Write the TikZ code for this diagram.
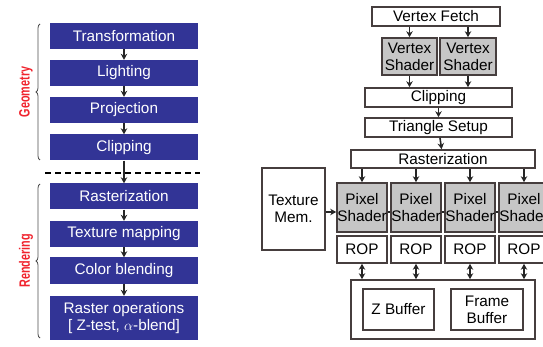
\documentclass[tikz,border=0pt]{standalone}
\usepackage{fontspec}
\setmainfont{Liberation Sans}
\usepackage{xcolor}
\usepackage{graphicx}
\usepackage{tikz}
\usetikzlibrary{arrows.meta, decorations.pathreplacing}
\definecolor{stageblue}{RGB}{50,52,150}
\definecolor{labelred}{RGB}{240,35,45}
\definecolor{boxline}{RGB}{70,62,62}
\newcommand{\narrow}[1]{\scalebox{0.72}[1]{#1}}
\tikzset{
  font=\fontsize{15.3}{17}\selectfont,           % one text size
  stage/.style    = {rectangle, fill=stageblue, text=white,
                     minimum width=148pt, minimum height=26pt, inner sep=0pt,
                     align=center},
  unit/.style     = {rectangle, draw=boxline, line width=1.6pt, fill=white,
                     inner sep=0pt, align=center},
  shader/.style   = {unit, fill=gray!45},
  arrow/.style    = {-{Stealth[length=6pt,width=6.5pt]}, line width=1.6pt,
                     draw=black!85},
  dblarrow/.style = {{Stealth[length=6pt,width=6.5pt]}-{Stealth[length=6pt,width=6.5pt]},
                     line width=1.6pt, draw=black!85},
  grp/.style      = {decorate, decoration={brace, amplitude=4pt},
                     draw=black!70, line width=0.8pt},
  grplabel/.style = {text=labelred, font=\fontsize{15}{16}\selectfont\bfseries,
                     rotate=90, inner sep=0pt}
}
\begin{document}
\begin{tikzpicture}[x=1pt, y=-1pt]
  \useasboundingbox (0,0) rectangle (543,347);
  % left: classic pipeline
  \node[stage] (trans) at (124,36)    {Transformation};
  \node[stage] (light) at (124,73)    {Lighting};
  \node[stage] (proj)  at (124,110)   {Projection};
  \node[stage] (clip)  at (124,147.5) {Clipping};
  \node[stage] (rast)  at (124,196.5) {Rasterization};
  \node[stage] (texm)  at (124,234)   {Texture mapping};
  \node[stage] (blend) at (124,270.5) {Color blending};
  \node[stage, minimum height=44pt] (rops) at (124,318)
       {Raster operations\\{}[ Z-test, $\alpha$-blend]};
  \draw[arrow] (trans) -- (light);
  \draw[arrow] (light) -- (proj);
  \draw[arrow] (proj)  -- (clip);
  \draw[arrow] (clip)  -- (rast);
  \draw[arrow] (rast)  -- (texm);
  \draw[arrow] (texm)  -- (blend);
  \draw[arrow] (blend) -- (rops);
  \coordinate (cutL) at (45,173);
  \coordinate (cutR) at (200,173);
  \draw[line width=1.5pt, dash pattern=on 6pt off 4pt] (cutL) -- (cutR);
  \draw[grp] (40,160) -- (40,24);
  \draw[grp] (40,338) -- (40,184);
  \node[grplabel] (geo) at (26,92)  {\narrow{Geometry}};
  \node[grplabel] (ren) at (26,261) {\narrow{Rendering}};
  % right: GPU pipeline
  \node[unit, minimum width=128pt, minimum height=19pt] (vf) at (436,16.5) {Vertex Fetch};
  \node[shader, minimum width=55pt, minimum height=37pt] (vs1) at (409.5,56.5) {Vertex\\Shader};
  \node[shader, minimum width=56pt, minimum height=37pt] (vs2) at (468,56.5)   {Vertex\\Shader};
  \node[unit, minimum width=147pt, minimum height=19pt] (clip2) at (438.5,97.5)  {Clipping};
  \node[unit, minimum width=147pt, minimum height=19pt] (tri)   at (438.5,127.5) {Triangle Setup};
  \node[unit, minimum width=184pt, minimum height=18pt] (rast2) at (443,159)     {Rasterization};
  \node[unit, minimum width=63pt, minimum height=82pt]  (tmem)  at (293.5,209)   {Texture\\Mem.};
  \foreach \i/\x in {1/362, 2/416, 3/470, 4/524}{
    \node[shader, minimum width=50pt, minimum height=49pt] (ps\i)  at (\x,207.5) {Pixel\\Shader};
    \node[unit,   minimum width=50pt, minimum height=27pt] (rop\i) at (\x,249.5) {ROP};
  }
  \node[unit, minimum width=184pt, minimum height=59pt] (mem)  at (443,309.5)   {};
  \node[unit, minimum width=71pt, minimum height=41pt]  (zbuf) at (398.5,309.5) {Z Buffer};
  \node[unit, minimum width=72pt, minimum height=41pt]  (fbuf) at (487,309.5)   {Frame\\Buffer};
  \draw[arrow] (vs1.north |- vf.south) -- (vs1.north);
  \draw[arrow] (vs2.north |- vf.south) -- (vs2.north);
  \draw[arrow] (vs1.south) -- (vs1.south |- clip2.north);
  \draw[arrow] (vs2.south) -- (vs2.south |- clip2.north);
  \draw[arrow] (clip2) -- (tri);
  \draw[arrow] (tri)   -- (rast2);
  \foreach \i in {1,...,4}{
    \draw[arrow] (ps\i.north |- rast2.south) -- (ps\i.north);
    \draw[dblarrow] (rop\i.south) -- (rop\i.south |- mem.north);
  }
  \draw[arrow] (tmem.east |- 0,212) -- (ps1.west |- 0,212);
  \foreach \a/\b in {1/2, 2/3, 3/4}
    \draw[line width=1.2pt, draw=black!85] (ps\a.east |- 0,212) -- (ps\b.west |- 0,212);
\end{tikzpicture}
\end{document}
